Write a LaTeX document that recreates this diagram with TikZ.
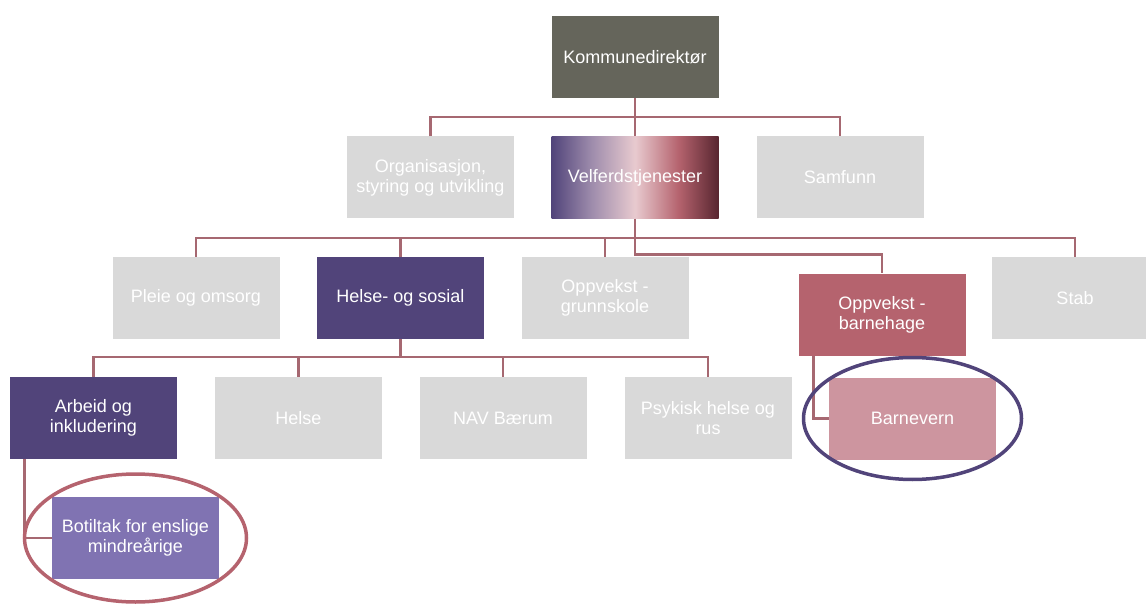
\documentclass[tikz,border=0pt]{standalone}
\usepackage{fontspec}
\setmainfont{Liberation Sans}
\usetikzlibrary{calc}

\definecolor{direktor}{RGB}{101,101,91}
\definecolor{boxgrey}{RGB}{217,217,217}
\definecolor{deeppurple}{RGB}{81,68,122}
\definecolor{softpurple}{RGB}{128,115,178}
\definecolor{lavender}{RGB}{158,140,172}
\definecolor{palepink}{RGB}{232,202,207}
\definecolor{rosered}{RGB}{181,99,110}
\definecolor{rosepale}{RGB}{205,149,159}
\definecolor{darkwine}{RGB}{88,38,48}
\definecolor{linkrose}{RGB}{166,104,113}

\pgfdeclarehorizontalshading{velferdfade}{100bp}{color(0bp)=(deeppurple); color(25bp)=(deeppurple); color(37bp)=(lavender); color(50bp)=(palepink); color(63bp)=(rosered); color(75bp)=(darkwine); color(100bp)=(darkwine)}

\begin{document}
\begin{tikzpicture}[x = 1pt, y = -1pt,
    box/.style = {minimum width = 167pt, minimum height = 82pt, inner sep = 0pt, align = center, text = white, font = \fontsize{18}{20}\selectfont},
    greybox/.style = {box, fill = boxgrey},
    link/.style = {draw = linkrose, line width = 2.8pt},
    ring/.style = {line width = 3.5pt}]

    \clip[use as bounding box] (0,0) rectangle (1146,604);

    \node[box, fill = direktor] (Dir) at (635,57) {Kommunedirektør};

    \node[greybox] (Org) at (430.5,177.5) {Organisasjon,\\styring og utvikling};
    \node[box, shade, shading = velferdfade] (Velf) at (635,177.5) {Velferdstjenester};
    \node[greybox] (Samf) at (840,177.5) {Samfunn};

    \node[greybox] (Pleie) at (196,298) {Pleie og omsorg};
    \node[box, fill = deeppurple] (Helse) at (400.5,298) {Helse- og sosial};
    \node[greybox] (Grunn) at (605,298) {Oppvekst -\\grunnskole};
    \node[box, fill = rosered] (Barne) at (882,314.5) {Oppvekst -\\barnehage};
    \node[greybox] (Stab) at (1075,298) {Stab};

    \node[box, fill = deeppurple] (Arbeid) at (93.5,418) {Arbeid og\\inkludering};
    \node[greybox] (HelseB) at (298.5,418) {Helse};
    \node[greybox] (NAV) at (503,418) {NAV Bærum};
    \node[greybox] (Psyk) at (708,418) {Psykisk helse og\\rus};
    \node[box, fill = rosepale] (Barnevern) at (912.5,418.5) {Barnevern};

    \node[box, fill = softpurple] (Botiltak) at (135.5,538) {Botiltak for enslige\\mindreårige};

    % tree lines
    \coordinate (BusI) at (635,117);
    \draw[link] (Dir) -- (BusI) -- (Velf);
    \draw[link] (Org.north) |- (BusI) -| (Samf.north);

    \coordinate (BusII) at (635,238);
    \draw[link] (Velf) -- (BusII);
    \draw[link] (Pleie.north) |- (BusII) -| (Stab.north);
    \foreach \NODE in {Helse, Grunn}
        {\draw[link] (\NODE.north) -- (\NODE.north |- BusII);}
    \draw[link] (BusII) |- ([yshift = 19pt]Barne.north) -- (Barne.north);

    \coordinate (BusIII) at (400.5,357);
    \draw[link] (Helse) -- (BusIII);
    \draw[link] (Arbeid.north) |- (BusIII) -| (Psyk.north);
    \foreach \NODE in {HelseB, NAV}
        {\draw[link] (\NODE.north) -- (\NODE.north |- BusIII);}

    \draw[link] ([xshift = 15pt]Barne.south west) |- (Barnevern.west);
    \draw[link] ([xshift = 15pt]Arbeid.south west) |- (Botiltak.west);

    % highlight rings
    \draw[ring, draw = deeppurple] (Barnevern.center) ellipse [x radius = 109, y radius = 61];
    \draw[ring, draw = rosered] (Botiltak.center) ellipse [x radius = 111, y radius = 64];

\end{tikzpicture}
\end{document}
